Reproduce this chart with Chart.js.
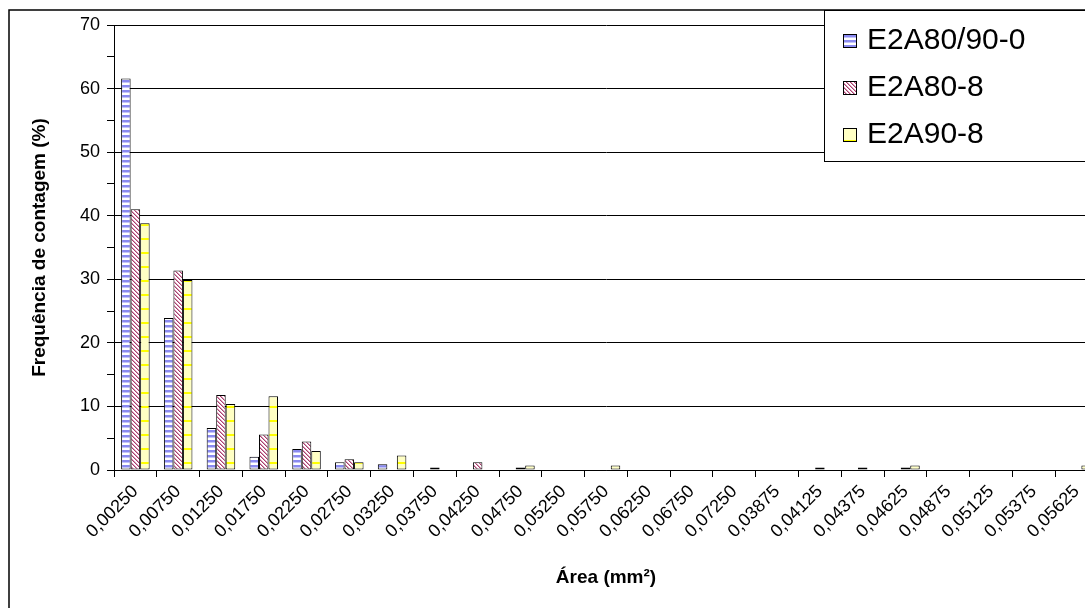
<!DOCTYPE html>
<html lang="pt">
<head>
<meta charset="UTF-8">
<script src="https://cdn.jsdelivr.net/npm/chart.js"></script>
<style>
  body { margin: 0; padding: 0; background: #fff; overflow: hidden; }
  #wrap { position: absolute; left: 0; top: 0; width: 1110px; height: 620px; }
</style>
</head>
<body>
<div id="wrap"><canvas id="chart"></canvas></div>
<script>
const categories = [
  "0,00250", "0,00750", "0,01250", "0,01750", "0,02250", "0,02750", "0,03250", "0,03750",
  "0,04250", "0,04750", "0,05250", "0,05750", "0,06250", "0,06750", "0,07250", "0,03875",
  "0,04125", "0,04375", "0,04625", "0,04875", "0,05125", "0,05375", "0,05625"
];
const seriesNames = ["E2A80/90-0", "E2A80-8", "E2A90-8"];
const e2a8090_0 = [61.6, 23.9, 6.6, 2.1, 3.3, 1.2, 0.9, 0, 0, 0, 0, 0, 0, 0, 0, 0, 0, 0, 0, 0, 0, 0, 0];
const e2a80_8   = [41.0, 31.4, 11.8, 5.6, 4.5, 1.7, 0, 0.4, 1.2, 0.4, 0, 0, 0, 0, 0, 0, 0.4, 0.4, 0.4, 0, 0, 0, 0];
const e2a90_8   = [38.8, 29.9, 10.4, 11.6, 3.0, 1.2, 2.3, 0, 0, 0.7, 0, 0.7, 0, 0, 0, 0, 0, 0, 0.7, 0, 0, 0, 0.7];
const yTicks = [0, 10, 20, 30, 40, 50, 60, 70];

const FONT = "'Liberation Sans', Arial, sans-serif";

function makePattern(w, h, draw) {
  const c = document.createElement("canvas");
  c.width = w; c.height = h;
  const g = c.getContext("2d");
  draw(g);
  return g.createPattern(c, "repeat");
}

// horizontal blue stripes
const bluePat = makePattern(4, 5, g => {
  g.fillStyle = "#fff"; g.fillRect(0, 0, 4, 5);
  g.fillStyle = "#8a8af0"; g.fillRect(0, 0, 4, 2);
  g.fillStyle = "#c4c4fa"; g.fillRect(0, 2, 4, 1);
});
// pink diagonal stripes
const pinkPat = makePattern(4, 4, g => {
  g.fillStyle = "#fff"; g.fillRect(0, 0, 4, 4);
  for (let x = 0; x < 4; x++) {
    for (let y = 0; y < 4; y++) {
      const d = (x - y + 8) % 4;
      if (d === 0) { g.fillStyle = "#a8416f"; g.fillRect(x, y, 1, 1); }
      else if (d === 1) { g.fillStyle = "#dc9ab8"; g.fillRect(x, y, 1, 1); }
    }
  }
});
// pale yellow with yellow dashes
const yellowPat = makePattern(10, 14, g => {
  g.fillStyle = "#ffffc4"; g.fillRect(0, 0, 10, 14);
  g.fillStyle = "#ffff00"; g.fillRect(0, 0, 10, 2);
});

const fills = [bluePat, pinkPat, yellowPat];
const values = [e2a8090_0, e2a80_8, e2a90_8];

const frame = {
  id: "frame",
  beforeDraw(chart) {
    const ctx = chart.ctx;
    ctx.save();
    ctx.strokeStyle = "#000";
    ctx.lineWidth = 1.5;
    ctx.strokeRect(9, 10, 3000, 3000);
    ctx.restore();
  },
  afterDraw(chart) {
    const ctx = chart.ctx;
    const area = chart.chartArea;
    ctx.save();
    // axis titles
    ctx.fillStyle = "#000";
    ctx.font = "bold 19px " + FONT;
    ctx.textAlign = "center";
    ctx.textBaseline = "middle";
    ctx.fillText("Área (mm²)", (area.left + area.right) / 2, 578);
    ctx.translate(40, (area.top + area.bottom) / 2);
    ctx.rotate(-Math.PI / 2);
    ctx.fillText("Frequência de contagem (%)", 0, 0);
    ctx.restore();

    // legend box
    ctx.save();
    ctx.fillStyle = "#fff";
    ctx.fillRect(824, 10, 400, 151);
    ctx.strokeStyle = "#000";
    ctx.lineWidth = 1;
    ctx.strokeRect(824.5, 10.5, 400, 151);
    const ys = [40, 87, 134];
    ctx.font = "30px " + FONT;
    ctx.textAlign = "left";
    ctx.textBaseline = "middle";
    seriesNames.forEach((name, i) => {
      ctx.fillStyle = fills[i];
      ctx.fillRect(843, ys[i] - 6, 13, 13);
      ctx.strokeStyle = "#000";
      ctx.strokeRect(843.5, ys[i] - 5.5, 13, 13);
      ctx.fillStyle = "#000";
      ctx.fillText(name, 867, ys[i] + 1);
    });
    ctx.restore();
  }
};

new Chart(document.getElementById("chart"), {
  type: "bar",
  data: {
    labels: categories,
    datasets: seriesNames.map((name, i) => ({
      label: name,
      data: values[i],
      backgroundColor: fills[i],
      borderColor: "#000",
      borderWidth: c => (c.raw ? 1 : 0),
      borderSkipped: false,
      categoryPercentage: 0.667,
      barPercentage: 1.0
    }))
  },
  options: {
    responsive: true,
    maintainAspectRatio: false,
    animation: false,
    devicePixelRatio: 1,
    layout: { padding: { top: 25, right: 12, bottom: 0, left: 0 } },
    plugins: {
      legend: { display: false },
      tooltip: { enabled: false }
    },
    scales: {
      x: {
        offset: true,
        grid: { drawOnChartArea: false, drawTicks: true, tickLength: 7, tickColor: "#000", offset: true },
        border: { color: "#000", width: 1 },
        ticks: {
          autoSkip: false,
          maxRotation: 45,
          minRotation: 45,
          padding: 4,
          color: "#000",
          font: { family: FONT, size: 18 }
        },
        afterFit(scale) { scale.height = 150; }
      },
      y: {
        min: 0,
        max: 70,
        ticks: {
          stepSize: 5,
          padding: 7,
          color: "#000",
          font: { family: FONT, size: 18 },
          callback: v => (yTicks.includes(v) ? v : "")
        },
        grid: {
          color: c => (c.tick && yTicks.includes(c.tick.value) ? "#000" : "rgba(0,0,0,0)"),
          tickColor: "#000",
          tickLength: 7
        },
        border: { color: "#000", width: 1 },
        afterFit(scale) { scale.width = 114; }
      }
    }
  },
  plugins: [frame]
});
</script>
</body>
</html>
